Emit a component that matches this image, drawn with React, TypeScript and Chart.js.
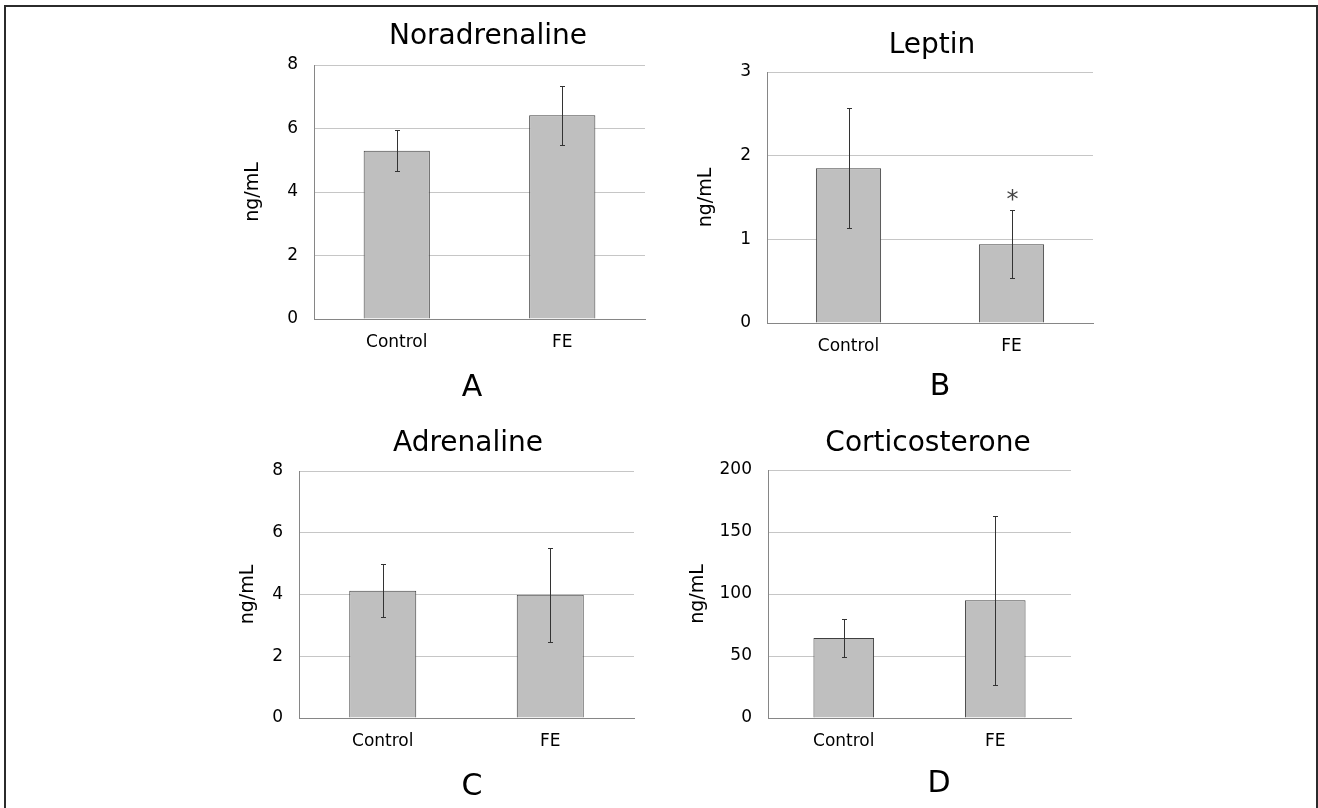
import React, { useEffect, useRef } from 'react';
import { Chart, registerables } from 'chart.js';

Chart.register(...registerables);

// ---------- data ----------
const categories = ['Control', 'FE'];

const noradrenalineMean = [5.3, 6.42];
const noradrenalineSd = [0.65, 0.93];
const noradrenalineTicks = [0, 2, 4, 6, 8];

const leptinMean = [1.85, 0.94];
const leptinSd = [0.715, 0.405];
const leptinTicks = [0, 1, 2, 3];
const leptinSignificant = [false, true];

const adrenalineMean = [4.12, 3.99];
const adrenalineSd = [0.855, 1.525];
const adrenalineTicks = [0, 2, 4, 6, 8];

const corticosteroneMean = [64.5, 94.9];
const corticosteroneSd = [15, 68];
const corticosteroneTicks = [0, 50, 100, 150, 200];

const noSignificance = [false, false];

// ---------- layout (page coordinates) ----------
const FONT = '"DejaVu Sans", "Liberation Sans", Arial, sans-serif';

type Panel = {
  title: string;
  letter: string;
  mean: number[];
  sd: number[];
  ticks: number[];
  sig: boolean[];
  box: { x: number; y: number; w: number; h: number };
  area: { l: number; t: number; r: number; b: number };
  yTitleX: number;
  titlePos: { x: number; y: number };
  letterPos: { x: number; y: number };
};

const panels: Panel[] = [
  {
    title: 'Noradrenaline', letter: 'A',
    mean: noradrenalineMean, sd: noradrenalineSd, ticks: noradrenalineTicks, sig: noSignificance,
    box: { x: 200, y: 8, w: 470, h: 400 },
    area: { l: 314, t: 65, r: 645, b: 319 },
    yTitleX: 253,
    titlePos: { x: 488, y: 44 },
    letterPos: { x: 472, y: 396 },
  },
  {
    title: 'Leptin', letter: 'B',
    mean: leptinMean, sd: leptinSd, ticks: leptinTicks, sig: leptinSignificant,
    box: { x: 670, y: 8, w: 470, h: 400 },
    area: { l: 767, t: 72, r: 1093, b: 323 },
    yTitleX: 706,
    titlePos: { x: 932, y: 53 },
    letterPos: { x: 940, y: 395 },
  },
  {
    title: 'Adrenaline', letter: 'C',
    mean: adrenalineMean, sd: adrenalineSd, ticks: adrenalineTicks, sig: noSignificance,
    box: { x: 200, y: 408, w: 470, h: 400 },
    area: { l: 299, t: 471, r: 634, b: 718 },
    yTitleX: 248,
    titlePos: { x: 468, y: 451 },
    letterPos: { x: 472, y: 795 },
  },
  {
    title: 'Corticosterone', letter: 'D',
    mean: corticosteroneMean, sd: corticosteroneSd, ticks: corticosteroneTicks, sig: noSignificance,
    box: { x: 670, y: 408, w: 470, h: 400 },
    area: { l: 768, t: 470, r: 1071, b: 718 },
    yTitleX: 698,
    titlePos: { x: 928, y: 451 },
    letterPos: { x: 939, y: 792 },
  },
];

const decoPlugin = {
  id: 'deco',
  afterDatasetsDraw(chart: any, _args: any, opts: any) {
    const { ctx } = chart;
    const xs = chart.scales.x;
    const ys = chart.scales.y;
    const data: number[] = chart.data.datasets[0].data;
    ctx.save();
    ctx.strokeStyle = '#333333';
    ctx.lineWidth = 1;
    data.forEach((v, i) => {
      const cx = Math.round(xs.getPixelForValue(i)) + 0.5;
      const top = Math.round(ys.getPixelForValue(v + opts.sd[i])) + 0.5;
      const bot = Math.round(ys.getPixelForValue(v - opts.sd[i])) + 0.5;
      ctx.beginPath();
      ctx.moveTo(cx, top);
      ctx.lineTo(cx, bot);
      ctx.moveTo(cx - 2.5, top);
      ctx.lineTo(cx + 2.5, top);
      ctx.moveTo(cx - 2.5, bot);
      ctx.lineTo(cx + 2.5, bot);
      ctx.stroke();
      if (opts.sig[i]) {
        ctx.fillStyle = '#444';
        ctx.font = `24px ${FONT}`;
        ctx.textAlign = 'center';
        ctx.textBaseline = 'alphabetic';
        ctx.fillText('*', cx, top - 4);
      }
    });
    ctx.restore();
  },
  afterDraw(chart: any, _args: any, opts: any) {
    const { ctx } = chart;
    ctx.save();
    ctx.fillStyle = '#000';
    ctx.textAlign = 'center';
    ctx.textBaseline = 'alphabetic';
    ctx.font = `28px ${FONT}`;
    ctx.fillText(opts.title, opts.titleX, opts.titleY);
    ctx.font = `30px ${FONT}`;
    ctx.fillText(opts.letter, opts.letterX, opts.letterY);
    ctx.restore();
  },
};

function PanelChart({ p }: { p: Panel }) {
  const ref = useRef<HTMLCanvasElement | null>(null);
  useEffect(() => {
    if (!ref.current) return;
    const yTitleSize = 19;
    const yTitleLh = yTitleSize * 1.2;
    const xH = 40;
    const padLeft = p.yTitleX - yTitleLh / 2 - p.box.x;
    const yW = p.area.l - p.box.x - padLeft;
    const padTop = p.area.t - p.box.y;
    const padRight = p.box.x + p.box.w - p.area.r;
    const padBottom = p.box.y + p.box.h - p.area.b - xH;
    const tmin = p.ticks[0];
    const tmax = p.ticks[p.ticks.length - 1];
    const step = p.ticks[1] - p.ticks[0];

    const chart = new Chart(ref.current, {
      type: 'bar',
      data: {
        labels: categories,
        datasets: [
          {
            data: p.mean,
            backgroundColor: '#bfbfbf',
            borderColor: '#404040',
            borderWidth: 1,
            barPercentage: 0.4,
            categoryPercentage: 1,
          },
        ],
      },
      plugins: [decoPlugin],
      options: {
        animation: false,
        responsive: false,
        events: [],
        layout: { padding: { left: padLeft, top: padTop, right: padRight, bottom: padBottom } },
        plugins: {
          legend: { display: false },
          tooltip: { enabled: false },
          title: { display: false },
          deco: {
            sd: p.sd,
            sig: p.sig,
            title: p.title,
            letter: p.letter,
            titleX: p.titlePos.x - p.box.x,
            titleY: p.titlePos.y - p.box.y,
            letterX: p.letterPos.x - p.box.x,
            letterY: p.letterPos.y - p.box.y,
          },
        } as any,
        scales: {
          x: {
            afterFit: (s: any) => { s.height = xH; },
            grid: { display: false, drawTicks: false },
            border: { display: true, color: '#868686', width: 1 },
            ticks: { color: '#000', font: { family: FONT, size: 17 }, padding: 13 },
          },
          y: {
            min: tmin,
            max: tmax,
            afterFit: (s: any) => { s.width = yW; },
            grid: {
              drawTicks: false,
              color: (c: any) => (c.tick && c.tick.value === tmin ? 'rgba(0,0,0,0)' : '#c6c6c6'),
              lineWidth: 1,
            },
            border: { display: true, color: '#868686', width: 1 },
            ticks: { stepSize: step, color: '#000', font: { family: FONT, size: 17 }, padding: 16 },
            title: {
              display: true,
              text: 'ng/mL',
              color: '#000',
              font: { family: FONT, size: yTitleSize },
              padding: 0,
            },
          },
        },
      },
    });
    return () => chart.destroy();
  }, [p]);

  return (
    <canvas
      ref={ref}
      width={p.box.w}
      height={p.box.h}
      style={{ position: 'absolute', left: p.box.x, top: p.box.y, width: p.box.w, height: p.box.h }}
    />
  );
}

export default function App() {
  return (
    <div
      style={{
        position: 'fixed', left: 0, top: 0, width: 1318, height: 808,
        overflow: 'hidden', background: '#fff',
      }}
    >
      <div
        style={{
          position: 'absolute', left: 4, top: 5, width: 1310, height: 900,
          borderLeft: '2px solid #2b2b2b', borderTop: '2px solid #2b2b2b', borderRight: '2px solid #2b2b2b',
        }}
      />
      {panels.map((p) => (
        <PanelChart key={p.letter} p={p} />
      ))}
    </div>
  );
}
